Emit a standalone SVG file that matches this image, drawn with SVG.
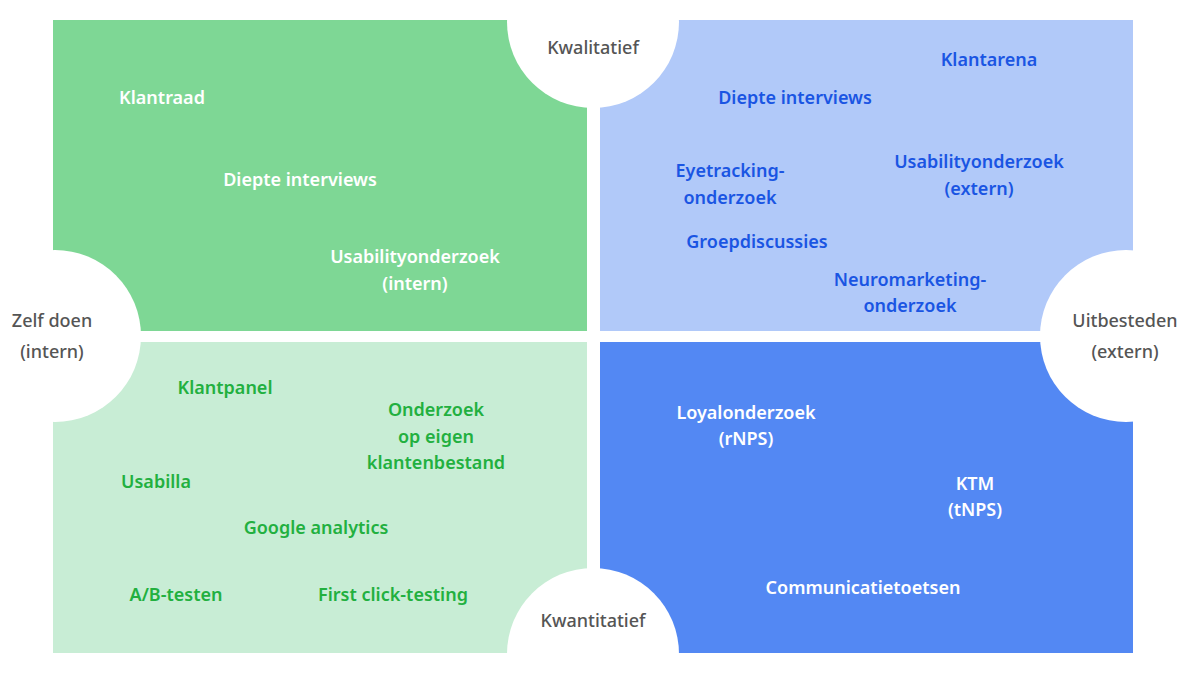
<svg xmlns="http://www.w3.org/2000/svg" width="1200" height="685" viewBox="0 0 1200 685">
<style>
text{font-family:"Noto Sans","Liberation Sans",sans-serif;font-size:18px;font-weight:600;text-anchor:middle}
.w{fill:#fff}.b{fill:#1a55e3}.g{fill:#22b03f}.k{fill:#555;font-weight:500}
</style>
<rect width="1200" height="685" fill="#fff"/>
<g id="q-tl"><rect x="53" y="20" width="534" height="311" fill="#7ed795"/></g>
<g id="q-tr"><rect x="600" y="20" width="533" height="311" fill="#b1c9f9"/></g>
<g id="q-bl"><rect x="53" y="342" width="534" height="311" fill="#c8edd5"/></g>
<g id="q-br"><rect x="600" y="342" width="533" height="311" fill="#5388f3"/></g>
<g id="circles" fill="#fff">
<circle cx="593" cy="22" r="86"/><circle cx="593" cy="654" r="86"/>
<circle cx="55" cy="336" r="86"/><circle cx="1126" cy="336" r="86"/>
</g>
<g id="axis-labels">
<text class="k" x="593" y="54">Kwalitatief</text>
<text class="k" x="593" y="627">Kwantitatief</text>
<text class="k" x="52" y="327">Zelf doen</text><text class="k" x="52" y="358">(intern)</text>
<text class="k" x="1125" y="327">Uitbesteden</text><text class="k" x="1125" y="358">(extern)</text>
</g>
<g id="tl-items">
<text class="w" x="162" y="104">Klantraad</text>
<text class="w" x="300" y="186">Diepte interviews</text>
<text class="w" x="415" y="263">Usabilityonderzoek</text><text class="w" x="415" y="290">(intern)</text>
</g>
<g id="tr-items">
<text class="b" x="989" y="66">Klantarena</text>
<text class="b" x="795" y="104">Diepte interviews</text>
<text class="b" x="730" y="177">Eyetracking-</text><text class="b" x="730" y="204">onderzoek</text>
<text class="b" x="979" y="168">Usabilityonderzoek</text><text class="b" x="979" y="195">(extern)</text>
<text class="b" x="757" y="248">Groepdiscussies</text>
<text class="b" x="910" y="286">Neuromarketing-</text><text class="b" x="910" y="312">onderzoek</text>
</g>
<g id="bl-items">
<text class="g" x="225" y="394">Klantpanel</text>
<text class="g" x="436" y="416">Onderzoek</text><text class="g" x="436" y="443">op eigen</text><text class="g" x="436" y="469">klantenbestand</text>
<text class="g" x="156" y="488">Usabilla</text>
<text class="g" x="316" y="534">Google analytics</text>
<text class="g" x="176" y="601">A/B-testen</text>
<text class="g" x="393" y="601">First click-testing</text>
</g>
<g id="br-items">
<text class="w" x="746" y="419">Loyalonderzoek</text><text class="w" x="746" y="445">(rNPS)</text>
<text class="w" x="975" y="490">KTM</text><text class="w" x="975" y="516">(tNPS)</text>
<text class="w" x="863" y="594">Communicatietoetsen</text>
</g>
<g id="connectors"/>
</svg>
